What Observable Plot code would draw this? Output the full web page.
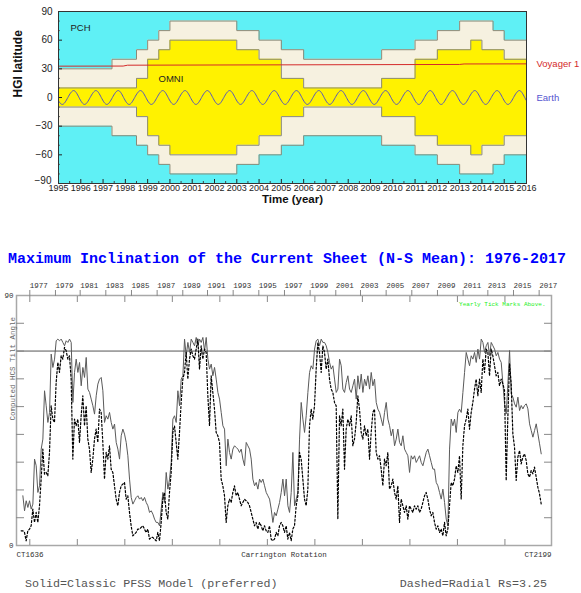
<!DOCTYPE html>
<html>
<head>
<meta charset="utf-8">
<script src="https://cdn.jsdelivr.net/npm/d3@7"></script>
<script src="https://cdn.jsdelivr.net/npm/@observablehq/plot@0.6"></script>
<style>
  html, body { margin: 0; padding: 0; background: #fff; }
  #page { position: relative; width: 581px; height: 593px; overflow: hidden; }
  #top { position: absolute; left: 0; top: 0; }
  #title { position: absolute; left: 8px; top: 250px; font: bold 15px "Liberation Mono", "Courier New", monospace; color: #0000ff; white-space: nowrap; line-height: 20px; }
  #bottom { position: absolute; left: 0; top: 270px; }
  .cap { position: absolute; top: 577px; font: 11.7px "Liberation Mono", "Courier New", monospace; color: #555; white-space: nowrap; line-height: 14px; }
</style>
</head>
<body>
<div id="page">
  <div id="top"></div>
  <div id="title">Maximum Inclination of the Current Sheet (N-S Mean): 1976-2017</div>
  <div id="bottom"></div>
  <div class="cap" style="left:25px">Solid=Classic PFSS Model (preferred)</div>
  <div class="cap" style="right:34px">Dashed=Radial Rs=3.25</div>
</div>
<script>
// ---------------- Top chart data ----------------
const yearTicks = [1995,1996,1997,1998,1999,2000,2001,2002,2003,2004,2005,2006,2007,2008,2009,2010,2011,2012,2013,2014,2015,2016];
const latTicks = [-90,-60,-30,0,30,60,90];
const latLabelTicks = [-60,-30,0,30,60,90];
const latBottomTick = [-90];
const latMinor = [-80,-70,-50,-40,-20,-10,10,20,40,50,70,80];
const halfYearTicks = [1995.5,1996.5,1997.5,1998.5,1999.5,2000.5,2001.5,2002.5,2003.5,2004.5,2005.5,2006.5,2007.5,2008.5,2009.5,2010.5,2011.5,2012.5,2013.5,2014.5,2015.5];

// PCH / outer coverage boundary (symmetric +/- latitude), step changes
const outerTime = [1995, 1997.4, 1998.5, 1999, 1999.5, 2000, 2003, 2004, 2005, 2006, 2009.5, 2011, 2012, 2013, 2014.5, 2015, 2016];
const outerLat  = [30,   40,     50,     60,   70,     80,   70,   60,   50,   40,   50,     60,   70,   80,   70,     60,   60];
// OMNI coverage band (symmetric)
const innerTime = [1995, 1998.5, 1999, 1999.5, 2000, 2003, 2004, 2005, 2006, 2009.5, 2011, 2012, 2013.5, 2014, 2015, 2016];
const innerLat  = [10,   20,     40,   50,     60,   50,   40,   20,   10,   20,     40,   50,   60,     50,   40,   40];

// Voyager 1 heliographic latitude
const voyTime = [1995, 1997.9, 1998.1, 2013.0, 2013.2, 2016];
const voyLat  = [32.8, 32.9,   33.8,   34.6,   35.1,   35.2];

// Earth heliographic latitude: yearly extremes and crossings
const earthYears = [1994,1995,1996,1997,1998,1999,2000,2001,2002,2003,2004,2005,2006,2007,2008,2009,2010,2011,2012,2013,2014,2015,2016];
const earthPhase = [0.17, 0.42, 0.68, 0.92];
const earthLat   = [-7.25, 0, 7.25, 0];

// ---------------- Bottom chart data ----------------
const crDomain = [1636, 2199];
const crTicks = [1650,1700,1750,1800,1850,1900,1950,2000,2050,2100,2150];
const yearLabels = [1977,1979,1981,1983,1985,1987,1989,1991,1993,1995,1997,1999,2001,2003,2005,2007,2009,2011,2013,2015,2017];
const yearCR     = [1650,1677,1703,1730,1757,1784,1811,1837,1864,1891,1918,1945,1972,1998,2025,2052,2079,2106,2132,2159,2186];
const tiltTicks = [10,20,30,40,50,60,70,80];
const tiltLabelTicks = [0, 90];
const refTilt = [70];

// samples every 1.754 Carrington rotations
const tiltStep = 1.754;
const solidStartCR = 1642.7;
const solidTilt = [
17.9,12.5,16.1,13.7,16.1,13.1,14.9,31.1,28.7,19.1,
21.5,34.7,38.3,55.7,50.3,44.3,47.9,68.9,64.1,67.1,
73.7,74.3,73.7,74.3,73.1,71.9,73.7,73.1,74.3,73.1,
51.5,62.3,67.1,62.3,65.9,57.5,64.1,60.5,67.7,56.3,
55.1,52.7,50.3,47.3,53.9,58.1,59.9,60.5,55.7,44.3,
46.7,45.5,47.9,44.3,41.9,43.7,37.1,34.7,31.1,39.5,
41.9,40.1,37.1,32.3,23.9,17.3,14.9,16.1,17.3,17.9,
16.7,17.3,16.1,17.3,15.5,14.3,11.9,12.5,11.3,9.5,
8.3,8.3,7.1,13.1,19.1,15.5,26.3,20.3,23.9,29.9,
45.5,46.7,44.3,55.7,50.3,
59.9,61.1,74.3,68.3,73.1,69.5,74.3,73.1,71.9,74.9,
71.9,74.3,73.1,74.9,70.1,74.9,67.1,63.5,65.3,61.1,
64.1,59.9,55.1,52.7,47.9,43.1,41.9,28.7,38.3,33.5,
31.1,34.7,35.9,35.3,34.7,33.5,34.7,31.1,28.7,37.1,
35.9,34.7,31.1,23.9,21.5,22.7,20.3,23.9,22.7,23.9,
21.5,19.1,17.9,16.7,13.1,8.3,11.9,10.7,13.1,15.5,
19.1,23.9,17.9,23.9,14.3,11.9,19.1,33.5,14.3,16.7,
19.1,38.3,51.5,45.5,40.7,46.7,55.1,62.3,64.7,63.5,
70.7,73.7,74.3,71.9,74.3,73.1,73.1,71.9,69.5,65.9,
63.5,64.7,59.9,55.1,56.3,67.1,64.7,
56.3,55.1,58.7,61.1,56.3,55.1,57.5,59.9,52.7,61.1,
56.3,61.7,55.1,59.9,57.5,61.1,56.3,62.3,57.5,59.9,
51.5,49.1,47.9,45.5,43.1,47.9,51.5,45.5,43.1,39.5,
41.9,35.9,38.3,41.9,37.1,35.9,39.5,34.7,33.5,32.3,
26.3,32.3,31.1,32.3,29.9,31.1,32.3,29.9,28.7,31.1,
33.5,34.7,32.3,29.9,27.5,27.5,22.7,21.5,19.1,16.7,
20.3,15.5,9.5,7.1,34.7,45.5,43.1,45.5,40.7,47.9,
49.1,47.9,55.1,62.3,69.5,67.1,64.7,68.3,67.1,69.5,
65.9,70.7,67.1,74.3,73.1,69.5,71.9,73.1,68.3,73.1,
71.9,70.7,68.3,69.5,67.1,65.9,58.2,51.0,47.4,58.2,
70.2,54.6,53.4,51.0,49.8,53.4,48.6,50.4,49.2,50.4,
51.0,49.2,43.8,41.4,39.0,41.4,43.8,40.2,36.6,33.0
];
const dashedStartCR = 1640.9;
const dashedTilt = [
5.3,5.3,4.7,1.7,5.3,5.9,7.1,13.1,8.3,11.9,
8.3,14.3,23.9,34.7,25.7,26.3,25.1,33.5,50.3,45.5,
44.3,58.7,65.9,62.3,68.3,67.1,71.3,70.1,67.1,68.3,
59.9,31.1,45.5,43.1,45.5,37.1,46.7,53.9,43.1,50.3,
38.3,34.7,26.3,31.1,38.3,41.9,37.1,49.1,47.9,37.1,
23.9,33.5,31.1,35.9,27.5,26.3,21.5,16.7,14.3,19.1,
21.5,22.1,22.7,16.7,17.9,11.9,7.1,3.5,4.1,4.7,
5.9,5.9,6.5,7.1,5.9,4.7,5.9,2.3,2.9,2.9,
2.3,1.7,4.7,1.7,8.3,16.7,19.1,11.9,9.5,19.1,
26.3,40.7,43.1,
37.1,31.1,40.7,
51.5,59.9,62.3,69.5,59.9,67.1,70.7,68.3,67.1,70.7,
74.3,63.5,71.9,67.1,70.7,69.5,53.9,43.1,61.1,55.1,
49.1,40.7,39.5,37.1,23.9,21.5,17.9,8.3,14.3,16.7,
15.5,19.1,21.5,17.9,19.1,16.7,14.3,15.5,16.7,16.1,
15.5,14.3,11.9,9.5,7.1,8.3,5.9,8.3,7.1,5.3,
7.1,5.3,4.7,7.1,2.3,1.7,2.3,4.7,3.5,7.1,
8.3,7.1,4.7,7.1,2.3,4.7,1.7,5.9,7.1,14.3,
17.9,33.5,31.1,23.9,16.7,14.3,20.3,43.1,49.1,45.5,
50.3,63.5,73.1,69.5,62.3,71.9,69.5,63.5,67.1,59.9,
56.3,55.1,51.5,50.3,
9.5,46.7,43.1,49.1,27.5,41.9,45.5,43.1,46.7,35.9,
38.3,44.3,53.9,49.1,40.7,38.3,43.1,39.5,41.9,31.1,
40.7,47.9,49.1,33.5,31.1,32.3,27.5,21.5,31.1,28.7,
33.5,20.3,21.5,23.9,19.1,16.7,21.5,8.3,16.7,14.3,
11.9,14.3,9.5,14.3,13.1,11.9,14.3,13.1,14.3,11.9,
13.1,15.5,17.9,19.1,16.7,13.1,10.7,11.9,8.3,5.9,
7.1,4.7,5.9,3.5,8.3,3.5,5.9,14.3,22.7,21.5,
23.9,28.7,26.3,32.3,16.7,35.9,43.1,45.5,49.1,41.9,
47.9,51.5,56.3,59.9,53.9,59.9,55.1,67.1,62.3,70.7,
69.5,61.1,70.7,68.3,64.7,61.1,62.3,57.5,59.9,
58.2,55.8,23.4,46.2,65.4,58.2,40.2,35.4,23.4,31.8,
34.2,29.4,31.8,33.0,30.6,25.8,24.6,27.0,25.8,28.2,
24.6,21.0,18.6,15.0
];

// ---------------- Colours ----------------
const cyan = "#5ff0f5", beige = "#f6f1e0", yellow = "#fff200", edge = "#8a8a78";

// ---------------- Build tables ----------------
const outerRows = outerTime.map((t, i) => ({t, lat: outerLat[i]}));
const innerRows = innerTime.map((t, i) => ({t, lat: innerLat[i]}));
const voyRows = voyTime.map((t, i) => ({t, lat: voyLat[i]}));
const earthRows = earthYears.flatMap(y => earthPhase.map((p, i) => ({t: y + p, lat: earthLat[i]})));
const solidRows = solidTilt.map((v, i) => ({cr: solidStartCR + i * tiltStep, tilt: v}));
const dashedRows = dashedTilt.map((v, i) => ({cr: dashedStartCR + i * tiltStep, tilt: v}));
const yearOf = new Map(yearCR.map((c, i) => [c, String(yearLabels[i])]));

const topFont = "'Liberation Sans', Arial, sans-serif";
const monoFont = "'Liberation Mono', 'Courier New', monospace";

const topChart = Plot.plot({
  width: 581, height: 205,
  marginLeft: 58, marginRight: 55, marginTop: 11, marginBottom: 22,
  x: {domain: [yearTicks[0], yearTicks[yearTicks.length - 1]]},
  y: {domain: [latTicks[0], latTicks[latTicks.length - 1]]},
  style: {fontFamily: topFont, fontSize: "10px", color: "#222", background: "transparent", overflow: "visible"},
  marks: [
    Plot.frame({fill: cyan}),
    Plot.areaY(outerRows, {x: "t", y1: d => -d.lat, y2: "lat", curve: "step-after", fill: beige}),
    Plot.line(outerRows, {x: "t", y: "lat", curve: "step-after", stroke: edge, strokeWidth: 1}),
    Plot.line(outerRows, {x: "t", y: d => -d.lat, curve: "step-after", stroke: edge, strokeWidth: 1}),
    Plot.areaY(innerRows, {x: "t", y1: d => -d.lat, y2: "lat", curve: "step-after", fill: yellow}),
    Plot.line(innerRows, {x: "t", y: "lat", curve: "step-after", stroke: edge, strokeWidth: 1}),
    Plot.line(innerRows, {x: "t", y: d => -d.lat, curve: "step-after", stroke: edge, strokeWidth: 1}),
    Plot.line(voyRows, {x: "t", y: "lat", stroke: "#d42a2a", strokeWidth: 1}),
    Plot.line(earthRows, {x: "t", y: "lat", curve: "natural", stroke: "#5555c0", strokeWidth: 1, clip: true}),
    // axes
    Plot.axisY({anchor: "left", ticks: latMinor, tickSize: -2, tickFormat: () => "", stroke: "#666", label: null}),
    Plot.axisY({anchor: "left", ticks: latTicks, tickSize: -4, tickFormat: () => "", stroke: "#222", label: null}),
    Plot.axisY({anchor: "left", ticks: latLabelTicks, tickSize: 0, tickPadding: 6, label: null}),
    Plot.axisY({anchor: "left", ticks: latBottomTick, tickSize: 0, tickPadding: 7, dy: -3, label: null}),
    Plot.axisX({anchor: "bottom", ticks: halfYearTicks, tickSize: -2, tickFormat: () => "", stroke: "#444", label: null}),
    Plot.axisX({anchor: "bottom", ticks: yearTicks, tickSize: -4, tickFormat: () => "", stroke: "#222", label: null}),
    Plot.axisX({anchor: "bottom", ticks: yearTicks, tickSize: 0, tickPadding: 1.5, tickFormat: d => String(d), fontSize: 9, label: null}),
    Plot.frame({stroke: "#333", strokeWidth: 1}),
    // texts
    Plot.text(["HGI latitude"], {frameAnchor: "left", text: d => d, rotate: -90, dx: -40, fontWeight: "bold", fontSize: 12, fill: "#111"}),
    Plot.text(["Time (year)"], {frameAnchor: "bottom", text: d => d, dy: 19.5, fontWeight: "bold", fontSize: 11.5, fill: "#111"}),
    Plot.text(["PCH"], {frameAnchor: "top-left", text: d => d, dx: 12, dy: 13, textAnchor: "start", fontSize: 9.5, fill: "#222"}),
    Plot.text(["OMNI"], {frameAnchor: "top-left", text: d => d, dx: 100, dy: 64, textAnchor: "start", fontSize: 9.5, fill: "#222"}),
    Plot.text(voyRows, Plot.selectLast({x: "t", y: "lat", text: () => "Voyager 1", dx: 10, textAnchor: "start", fontSize: 9.5, fill: "#d42a2a"})),
    Plot.text(["Earth"], {frameAnchor: "right", text: d => d, dx: 10, textAnchor: "start", fontSize: 9.5, fill: "#5555d0"})
  ]
});
document.getElementById("top").appendChild(topChart);

const bottomChart = Plot.plot({
  width: 581, height: 300,
  marginLeft: 16, marginRight: 30, marginTop: 25, marginBottom: 25,
  x: {domain: crDomain},
  y: {domain: [tiltLabelTicks[0], tiltLabelTicks[1]]},
  style: {fontFamily: monoFont, fontSize: "7.5px", color: "#333", background: "transparent", overflow: "visible"},
  marks: [
    Plot.ruleY(refTilt, {stroke: "#555", strokeWidth: 1}),
    Plot.line(solidRows, {x: "cr", y: "tilt", stroke: "#5a5a5a", strokeWidth: 1}),
    Plot.line(dashedRows, {x: "cr", y: "tilt", stroke: "#000", strokeWidth: 1.2, strokeDasharray: "2,2"}),
    Plot.frame({stroke: "#a8a8a8", strokeWidth: 1.5}),
    Plot.axisY({anchor: "left", ticks: tiltTicks, tickSize: -8, tickFormat: () => "", stroke: "#888", label: null}),
    Plot.axisY({anchor: "right", ticks: tiltTicks, tickSize: -8, tickFormat: () => "", stroke: "#888", label: null}),
    Plot.axisY({anchor: "left", ticks: tiltLabelTicks, tickSize: 0, tickPadding: 3, label: null}),
    Plot.axisX({anchor: "top", ticks: crTicks, tickSize: -6, tickFormat: () => "", stroke: "#888", label: null}),
    Plot.axisX({anchor: "bottom", ticks: crTicks, tickSize: -6, tickFormat: () => "", stroke: "#888", label: null}),
    Plot.axisX({anchor: "top", ticks: yearCR, tickSize: 6, tickPadding: 2, tickFormat: d => yearOf.get(d), textAnchor: "start", stroke: "#888", label: null}),
    Plot.text(["CT" + crDomain[0]], {frameAnchor: "bottom-left", text: d => d, dy: 11, textAnchor: "start", fill: "#333"}),
    Plot.text(["Carrington Rotation"], {frameAnchor: "bottom", text: d => d, dy: 11, fill: "#333"}),
    Plot.text(["CT" + crDomain[1]], {frameAnchor: "bottom-right", text: d => d, dy: 11, textAnchor: "end", fill: "#333"}),
    Plot.text(["Yearly Tick Marks Above."], {frameAnchor: "top-right", text: d => d, dx: -6, dy: 6, textAnchor: "end", fontSize: 6, fill: "#22ee22"}),
    Plot.text(["Computed HCS Tilt Angle"], {frameAnchor: "left", text: d => d, rotate: -90, dx: -4, fontSize: 7.5, fill: "#666"})
  ]
});
document.getElementById("bottom").appendChild(bottomChart);
</script>
</body>
</html>
